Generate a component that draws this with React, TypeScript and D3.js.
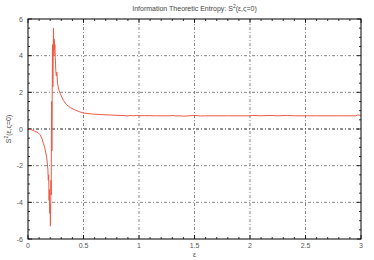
import React from "react";
import * as d3 from "d3";

const epsValues = [
  0, 0.03, 0.063, 0.09, 0.108, 0.125, 0.138, 0.15, 0.16, 0.168, 0.174, 0.179, 0.183, 0.186,
  0.19, 0.193, 0.196, 0.199, 0.202, 0.204, 0.207, 0.209, 0.211, 0.213, 0.215, 0.218, 0.221,
  0.224, 0.227, 0.23, 0.233, 0.236, 0.239, 0.242, 0.246, 0.25, 0.255, 0.26, 0.266, 0.272,
  0.28, 0.29, 0.3, 0.32, 0.347, 0.38, 0.42, 0.46, 0.5, 0.57, 0.65, 0.75, 0.87, 0.9, 0.92,
  0.95, 0.98, 1.0, 1.05, 1.15, 1.28, 1.3, 1.33, 1.36, 1.4, 1.45, 1.5, 1.55, 1.6, 1.8, 2.0,
  2.02, 2.1, 2.18, 2.25, 2.33, 2.4, 2.6, 2.8, 2.95, 2.97, 3.0,
];
const entropyValues = [
  0, -0.04, -0.13, -0.2, -0.31, -0.5, -0.78, -1.0, -1.3, -1.55, -1.85, -2.2, -2.8, -2.5,
  -3.9, -3.3, -4.6, -4.1, -5.3, -4.4, -2.8, -3.6, -0.5, 1.5, -1.2, 1.6, 4.6, 2.3, 4.2,
  5.5, 4.0, 4.9, 4.3, 4.6, 3.9, 3.2, 2.9, 3.1, 2.5, 2.3, 2.1, 1.95, 1.8, 1.55, 1.33,
  1.17, 1.05, 0.95, 0.87, 0.82, 0.79, 0.76, 0.73, 0.71, 0.74, 0.72, 0.74, 0.72, 0.73,
  0.72, 0.72, 0.74, 0.71, 0.72, 0.7, 0.72, 0.74, 0.71, 0.72, 0.72, 0.72, 0.74, 0.72,
  0.74, 0.72, 0.74, 0.72, 0.72, 0.72, 0.72, 0.77, 0.74,
];

const xTicks = [0, 0.5, 1, 1.5, 2, 2.5, 3];
const xTickLabels = ["0", "0.5", "1", "1.5", "2", "2.5", "3"];
const yTicks = [-6, -4, -2, 0, 2, 4, 6];
const yTickLabels = ["-6", "-4", "-2", "0", "2", "4", "6"];
const titleText = "Information Theoretic Entropy: S";
const yLabelText = "S";

export default function App() {
  const W = 374, H = 260;
  const L = 28, R = 361, T = 19, B = 239;
  const x = d3.scaleLinear().domain([0, 3]).range([L, R]);
  const y = d3.scaleLinear().domain([-6, 6]).range([B, T]);
  const xMinor = d3.range(0, 3.0001, 0.1).filter((v) => Math.abs(v * 2 - Math.round(v * 2)) > 1e-6);
  const yMinor = d3.range(-6, 6.0001, 0.5).filter((v) => Math.abs(v / 2 - Math.round(v / 2)) > 1e-6);
  const line = d3
    .line<number>()
    .x((_, i) => x(epsValues[i]))
    .y((d) => y(d));
  const path = line(entropyValues) || "";
  const font = "'Liberation Sans', Arial, sans-serif";
  const grid = "#666";
  return (
    <div style={{ position: "absolute", left: 0, top: 0 }}>
      <svg width={W} height={H} style={{ display: "block", background: "#fff" }}>
        {xTicks.slice(1, -1).map((v) => (
          <line key={"gx" + v} x1={x(v)} x2={x(v)} y1={T} y2={B} stroke={grid} strokeWidth={0.8} strokeDasharray="3,2,1,2" />
        ))}
        {yTicks.slice(1, -1).map((v) => (
          <line key={"gy" + v} x1={L} x2={R} y1={y(v)} y2={y(v)} stroke={v === 0 ? "#222" : grid} strokeWidth={v === 0 ? 1 : 0.8} strokeDasharray="3,2,1,2" />
        ))}
        {xTicks.map((v) => (
          <g key={"tx" + v}>
            <line x1={x(v)} x2={x(v)} y1={B} y2={B - 4} stroke="#000" strokeWidth={0.8} />
            <line x1={x(v)} x2={x(v)} y1={T} y2={T + 4} stroke="#000" strokeWidth={0.8} />
          </g>
        ))}
        {xMinor.map((v) => (
          <g key={"mx" + v}>
            <line x1={x(v)} x2={x(v)} y1={B} y2={B - 2} stroke="#000" strokeWidth={0.8} />
            <line x1={x(v)} x2={x(v)} y1={T} y2={T + 2} stroke="#000" strokeWidth={0.8} />
          </g>
        ))}
        {yTicks.map((v) => (
          <g key={"ty" + v}>
            <line x1={L} x2={L + 4} y1={y(v)} y2={y(v)} stroke="#000" strokeWidth={0.8} />
            <line x1={R} x2={R - 4} y1={y(v)} y2={y(v)} stroke="#000" strokeWidth={0.8} />
          </g>
        ))}
        {yMinor.map((v) => (
          <g key={"my" + v}>
            <line x1={L} x2={L + 2} y1={y(v)} y2={y(v)} stroke="#000" strokeWidth={0.8} />
            <line x1={R} x2={R - 2} y1={y(v)} y2={y(v)} stroke="#000" strokeWidth={0.8} />
          </g>
        ))}
        <path d={path} fill="none" stroke="#ee5a45" strokeWidth={1} />
        <rect x={L} y={T} width={R - L} height={B - T} fill="none" stroke="#000" strokeWidth={1} />
        {xTicks.map((v, i) => (
          <text key={"lx" + v} x={x(v)} y={B + 9} textAnchor="middle" fontFamily={font} fontSize={7} fill="#555">
            {xTickLabels[i]}
          </text>
        ))}
        {yTicks.map((v, i) => (
          <text key={"ly" + v} x={L - 5} y={y(v) + 2.5} textAnchor="end" fontFamily={font} fontSize={7} fill="#555">
            {yTickLabels[i]}
          </text>
        ))}
        <text x={(L + R) / 2} y={11} textAnchor="middle" fontFamily={font} fontSize={7} fill="#444">
          {titleText}
          <tspan dy={-3} fontSize={5}>2</tspan>
          <tspan dy={3}>(ε,ς=0)</tspan>
        </text>
        <text x={(L + R) / 2} y={257} textAnchor="middle" fontFamily={font} fontSize={7} fill="#444">
          ε
        </text>
        <text transform={`translate(11,${(T + B) / 2}) rotate(-90)`} textAnchor="middle" fontFamily={font} fontSize={7} fill="#444">
          {yLabelText}
          <tspan dy={-3} fontSize={5}>2</tspan>
          <tspan dy={3}>(ε,ς=0)</tspan>
        </text>
      </svg>
    </div>
  );
}
